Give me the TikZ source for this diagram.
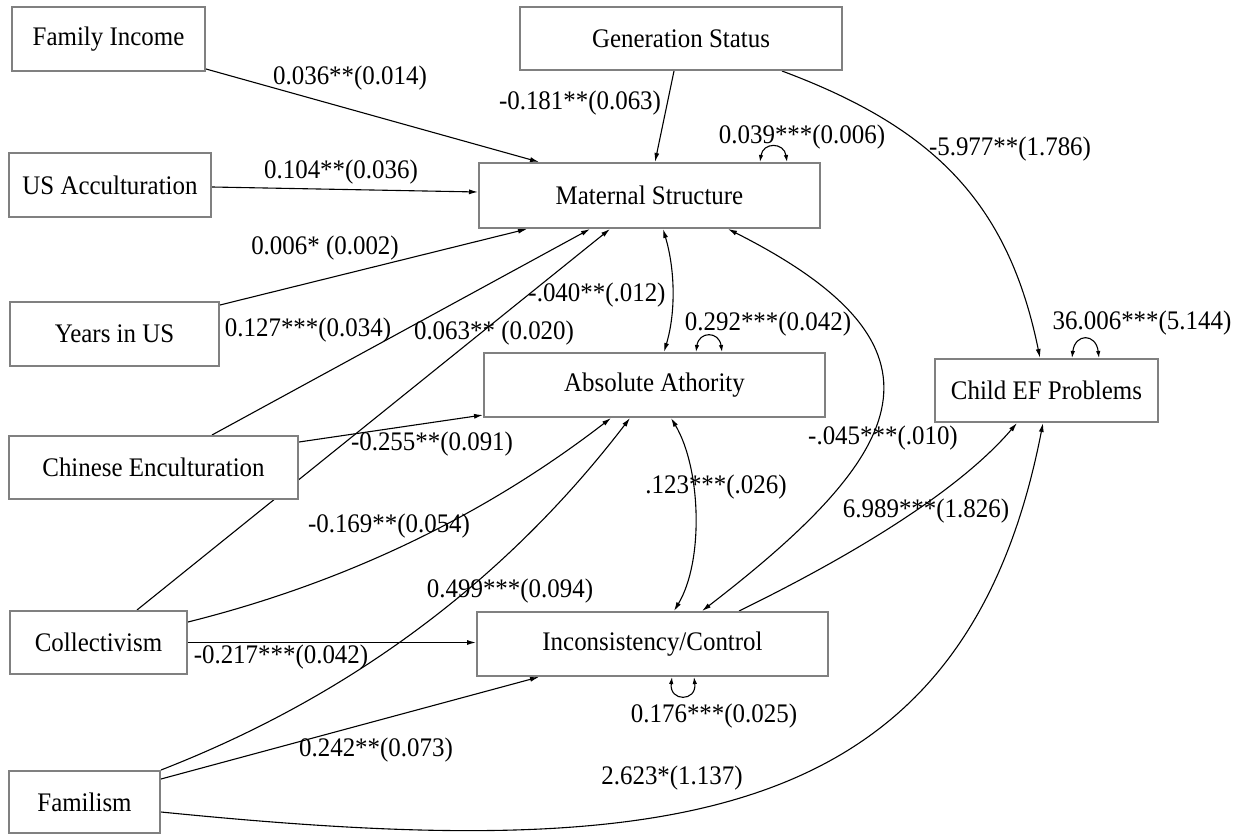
\documentclass[tikz,border=0pt]{standalone}
\usepackage{fontspec}
\setmainfont{Liberation Serif}[FakeStretch=0.93]
\usetikzlibrary{arrows.meta}
\pgfdeclarelayer{edges}
\pgfsetlayers{edges,main}
\definecolor{boxgray}{RGB}{128,128,128}
\begin{document}
\begin{tikzpicture}[x=1pt,y=-1pt,
  box/.style={draw=boxgray, line width=2pt, fill=white, inner sep=0pt, font=\fontsize{26.8}{30}\selectfont},
  lbl/.style={inner sep=0pt, font=\fontsize{26.8}{30}\selectfont},
  arr/.style={line width=1.1pt, -{Latex[length=9pt,width=5pt]}},
  darr/.style={line width=1.1pt, {Latex[length=9pt,width=5pt]}-{Latex[length=9pt,width=5pt]}},
  loopa/.style={line width=1.1pt, {Latex[length=7pt,width=4.5pt]}-{Latex[length=7pt,width=4.5pt]}}]

\useasboundingbox (0,0) rectangle (1245,834);

% boxes
\node[box, minimum width=193pt, minimum height=64pt] (fi) at (108.5,39) {Family Income};
\node[box, minimum width=322pt, minimum height=63pt] (gs) at (681,38.5) {Generation Status};
\node[box, minimum width=202pt, minimum height=64pt] (usa) at (110,185) {US Acculturation};
\node[box, minimum width=341pt, minimum height=65pt] (ms) at (649.5,195.5) {Maternal Structure};
\node[box, minimum width=209pt, minimum height=64pt] (yus) at (114.5,334) {Years in US};
\node[box, minimum width=341pt, minimum height=64pt] (aa) at (654.5,385) {Absolute Athority};
\node[box, minimum width=223pt, minimum height=63pt] (cef) at (1046.5,390.5) {Child EF Problems};
\node[box, minimum width=289pt, minimum height=63pt] (ce) at (153.5,467.5) {Chinese Enculturation};
\node[box, minimum width=177pt, minimum height=63pt] (col) at (98.5,642.5) {Collectivism};
\node[box, minimum width=351pt, minimum height=64pt] (ic) at (652.5,644) {Inconsistency/Control};
\node[box, minimum width=151pt, minimum height=62pt] (fm) at (84.5,802) {Familism};

% connectors
\begin{pgfonlayer}{edges}
\draw[arr] ([yshift=3pt]fi.south east) -- ([xshift=61pt]ms.north west);
\draw[arr] ([yshift=-2pt]usa.east) -- ([yshift=3.5pt]ms.west);
\draw[arr] ([yshift=-4pt]yus.north east) -- ([xshift=49pt]ms.south west);
\draw[arr] ([xshift=204pt]ce.north west) -- ([xshift=112pt]ms.south west);
\draw[arr] ([xshift=128pt]col.north west) -- ([xshift=132pt]ms.south west);
\draw[arr] ([xshift=155pt]gs.south west) -- ([xshift=177pt]ms.north west);
\draw[loopa] ([xshift=282pt]ms.north west) .. controls +(3,-20) and +(-3,-20) .. ([xshift=309pt]ms.north west);
\draw[darr] ([xshift=185pt]ms.south west) .. controls +(12,40) and +(12,-40) .. ([xshift=181pt]aa.north west);
\draw[loopa] ([xshift=213pt]aa.north west) .. controls +(3,-21) and +(-3,-21) .. ([xshift=239pt]aa.north west);
\draw[arr] ([yshift=-7pt]ce.north east) -- ([yshift=3pt]aa.south west);
\draw[arr] ([yshift=-12pt]col.north east) .. controls +(156,-39) and +(-127,98) .. ([xshift=128pt]aa.south west);
\draw[arr] (fm.north east) .. controls +(190,-74) and +(-124,162) .. ([xshift=147pt]aa.south west);
\draw[darr] ([xshift=188pt]aa.south west) .. controls +(30,50) and +(30,-50) .. ([xshift=198pt]ic.north west);
\draw[darr] ([xshift=250pt]ms.south west) .. controls +(234,118) and +(208,-160) .. ([xshift=226pt]ic.north west);
\draw[arr] ([xshift=263pt]ic.north west) .. controls +(90,-44) and +(-65,76) .. ([xshift=83pt]cef.south west);
\draw[arr] ([yshift=-42pt]fm.north east) .. controls +(500,50) and +(-80,412) .. ([xshift=109pt]cef.south west);
\draw[arr] ([xshift=263pt]gs.south west) .. controls +(150,56) and +(-32,-157) .. ([xshift=106pt]cef.north west);
\draw[loopa] ([xshift=138pt]cef.north west) .. controls +(3,-25) and +(-3,-25) .. ([xshift=165pt]cef.north west);
\draw[arr] (col.east) -- (col.east -| ic.west);
\draw[arr] ([yshift=-9pt]fm.north east) -- ([xshift=63pt]ic.south west);
\draw[loopa] ([xshift=196pt]ic.south west) .. controls +(-3,25) and +(3,25) .. ([xshift=218pt]ic.south west);
\end{pgfonlayer}

% labels
\node[lbl] (l1) at (350,78) {0.036**(0.014)};
\node[lbl] (l2) at (580,103) {-0.181**(0.063)};
\node[lbl] (l3) at (802,137) {0.039***(0.006)};
\node[lbl] (l4) at (1010,149) {-5.977**(1.786)};
\node[lbl] (l5) at (341,172) {0.104**(0.036)};
\node[lbl] (l6) at (325,248) {0.006* (0.002)};
\node[lbl] (l7) at (597,295) {-.040**(.012)};
\node[lbl] (l8) at (768,324) {0.292***(0.042)};
\node[lbl] (l9) at (1142,323) {36.006***(5.144)};
\node[lbl] (l10) at (308,330) {0.127***(0.034)};
\node[lbl] (l11) at (494,333) {0.063** (0.020)};
\node[lbl] (l12) at (432,444) {-0.255**(0.091)};
\node[lbl] (l13) at (883,438) {-.045***(.010)};
\node[lbl] (l14) at (716,487) {.123***(.026)};
\node[lbl] (l15) at (926,511) {6.989***(1.826)};
\node[lbl] (l16) at (389,526) {-0.169**(0.054)};
\node[lbl] (l17) at (510,591) {0.499***(0.094)};
\node[lbl] (l18) at (281,657) {-0.217***(0.042)};
\node[lbl] (l19) at (714,716) {0.176***(0.025)};
\node[lbl] (l20) at (376,750) {0.242**(0.073)};
\node[lbl] (l21) at (672,778) {2.623*(1.137)};
\end{tikzpicture}
\end{document}
